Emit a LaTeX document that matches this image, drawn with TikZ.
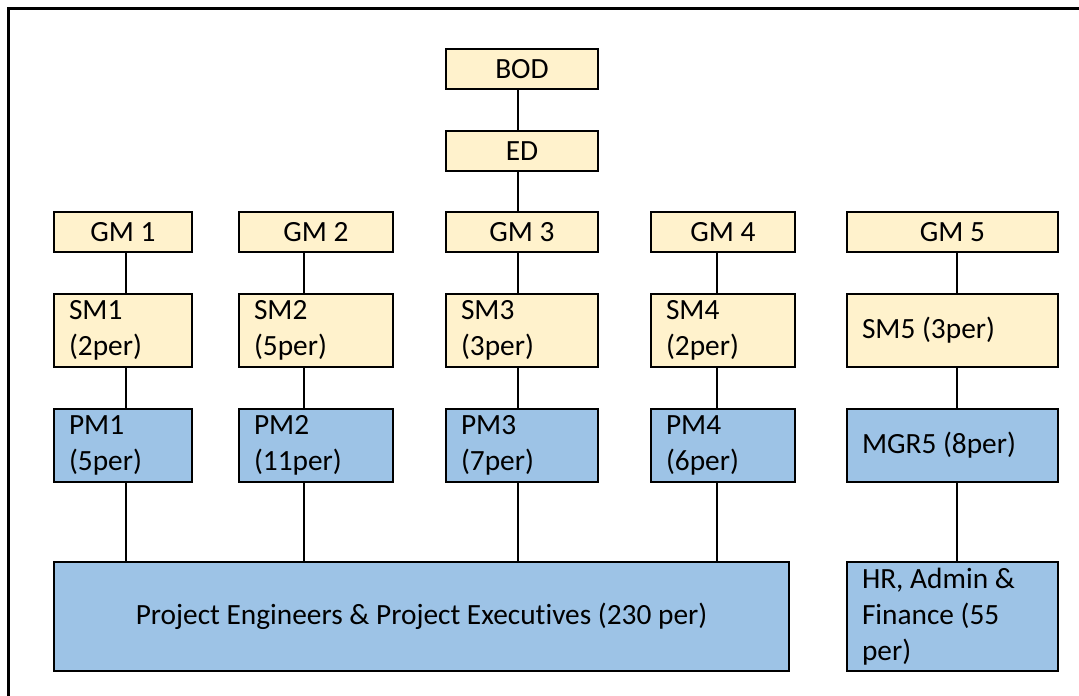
\documentclass[tikz,border=0pt]{standalone}
\usepackage{fontspec}
\setmainfont{Carlito}[Ligatures=NoCommon]
\usepackage{xcolor}
\usetikzlibrary{positioning}

\definecolor{cream}{HTML}{FFF2CC}
\definecolor{paleblue}{HTML}{9DC3E6}

\begin{document}
\begin{tikzpicture}[
  node distance=0.8cm and 1cm,
  box/.style={rectangle, draw, line width=0.04cm, fill=cream, align=center, font=\fontsize{16.7}{20.5}\selectfont, minimum height=0.8cm, inner ysep=0.04cm},
  post/.style={box, text width=#1, align=flush left, inner xsep=0.3cm, minimum height=1.46cm},
  unit/.style={post=#1, fill=paleblue},
  link/.style={line width=0.04cm}
]
  \useasboundingbox (0,0) rectangle (21.58,-13.92);
  \draw[line width=0.06cm] (0.18,-0.165) rectangle (22,-14.5);

  % Top of the chart
  \node[box, minimum width=3.04cm] (bod) at (10.44,-1.38) {BOD};
  \node[box, minimum width=3.04cm, below=of bod] (ed) {ED};
  \node[box, minimum width=3.04cm, below=0.78cm of ed] (gm3) {GM 3};
  \node[box, minimum width=3.08cm, left=1.02cm of gm3] (gm2) {GM 2};
  \node[box, minimum width=2.76cm, left=0.9cm of gm2] (gm1) {GM 1};
  \node[box, minimum width=2.88cm, right=1.02cm of gm3] (gm4) {GM 4};
  \node[box, minimum width=4.22cm, right=1cm of gm4] (gm5) {GM 5};

  % Senior managers
  \node[post=2.16cm, below=of gm1] (sm1) {SM1\\(2per)};
  \node[post=2.48cm, below=of gm2] (sm2) {SM2\\(5per)};
  \node[post=2.44cm, below=of gm3] (sm3) {SM3\\(3per)};
  \node[post=2.28cm, below=of gm4] (sm4) {SM4\\(2per)};
  \node[post=3.62cm, below=of gm5] (sm5) {SM5 (3per)};

  % Project managers
  \node[unit=2.16cm, below=of sm1] (pm1) {PM1\\(5per)};
  \node[unit=2.48cm, below=of sm2] (pm2) {PM2\\(11per)};
  \node[unit=2.44cm, below=of sm3] (pm3) {PM3\\(7per)};
  \node[unit=2.28cm, below=of sm4] (pm4) {PM4\\(6per)};
  \node[unit=3.62cm, below=of sm5] (mgr5) {MGR5 (8per)};

  % Staff
  \node[box, fill=paleblue, minimum width=14.7cm, minimum height=2.18cm, below=1.56cm of pm1.south west, anchor=north west] (pe) {Project Engineers \& Project Executives (230 per)};
  \node[unit=3.62cm, minimum height=2.18cm, inner ysep=0pt, below=1.56cm of mgr5] (hr) {HR, Admin \&\\Finance (55\\per)};

  % Lines
  \coordinate (c1) at ([xshift=0.06cm]gm1.south);
  \coordinate (c2) at ([xshift=-0.24cm]gm2.south);
  \coordinate (c3) at ([xshift=-0.08cm]gm3.south);
  \coordinate (c4) at ([xshift=-0.13cm]gm4.south);
  \coordinate (c5) at ([xshift=0.09cm]gm5.south);
  \draw[link] (bod.south -| c3) -- (ed.north -| c3);
  \draw[link] (ed.south -| c3) -- (gm3.north -| c3);
  \foreach \i in {1,...,4} {
    \draw[link] (gm\i.south -| c\i) -- (sm\i.north -| c\i);
    \draw[link] (sm\i.south -| c\i) -- (pm\i.north -| c\i);
    \draw[link] (pm\i.south -| c\i) -- (pe.north -| c\i);
  }
  \draw[link] (gm5.south -| c5) -- (sm5.north -| c5);
  \draw[link] (sm5.south -| c5) -- (mgr5.north -| c5);
  \draw[link] (mgr5.south -| c5) -- (hr.north -| c5);
\end{tikzpicture}
\end{document}
